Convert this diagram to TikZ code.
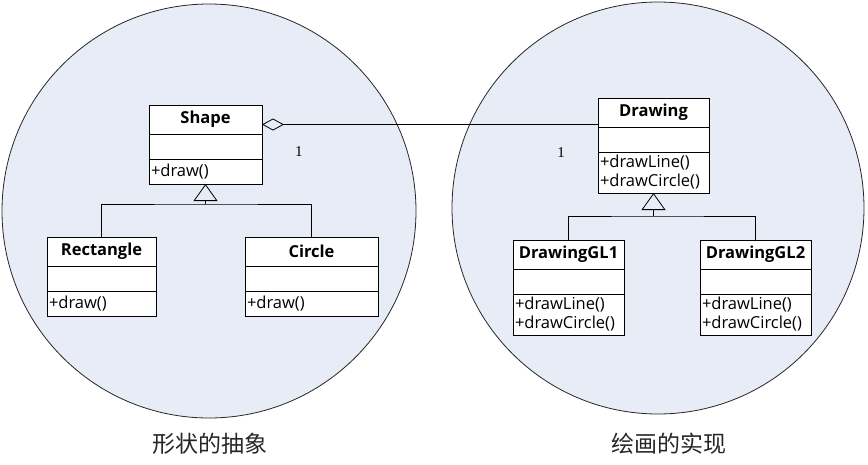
\documentclass[tikz,border=0pt]{standalone}
\usepackage{fontspec}
\setmainfont{Open Sans}
\newfontfamily\cjk{Noto Sans CJK SC}
\newfontfamily\numfont{Liberation Serif}
\usetikzlibrary{arrows.meta,positioning}
\definecolor{zonefill}{RGB}{231,236,246}
\newcommand\boxfont{\fontsize{16.5}{19}\selectfont}
\tikzset{
  cls/.style={draw, fill=white, outer sep=0pt, inner sep=0pt, minimum height=29pt, font=\boxfont\bfseries},
  attr/.style={draw, fill=white, outer sep=0pt, inner sep=0pt, minimum height=25pt},
  ops/.style={draw, fill=white, outer sep=0pt, inner xsep=2pt, inner ysep=0pt, align=left, minimum height=25pt, font=\boxfont},
  zone/.style={draw=black!85, fill=zonefill, line width=0.8pt},
  isa/.style={-{Triangle[open,length=17pt,width=24pt]}},
  has/.style={{Diamond[open,length=22pt,width=12pt]}-},
  mult/.style={font=\numfont\fontsize{15}{15}\selectfont},
  caption/.style={font=\cjk\fontsize{23}{23}\selectfont, text=black!85}
}

\begin{document}
\begin{tikzpicture}[x=1pt, y=-1pt, line width=0.8pt]
    \useasboundingbox (0,0) rectangle (868,464);
    \draw[zone] (209,211) circle[radius=207pt];% abstraction side
    \draw[zone] (658,208) circle[radius=206pt];% implementation side
    % abstraction classes
    \node[cls, minimum width=113pt] (shape) at (205.5,119.5) {Shape};
    \node[attr, minimum width=113pt, below=0pt of shape] (shape-a) {};
    \node[ops, text width=109pt, below=0pt of shape-a] (shape-o) {+draw()};
    \node[cls, minimum width=109pt] (rect) at (101.5,251.5) {Rectangle};
    \node[attr, minimum width=109pt, below=0pt of rect] (rect-a) {};
    \node[ops, text width=105pt, below=0pt of rect-a] (rect-o) {+draw()};
    \node[cls, minimum width=133pt] (circ) at (311.5,251.5) {Circle};
    \node[attr, minimum width=133pt, below=0pt of circ] (circ-a) {};
    \node[ops, text width=129pt, below=0pt of circ-a] (circ-o) {+draw()};
    % implementation classes
    \node[cls, minimum width=111pt] (drawing) at (653.5,112.5) {Drawing};
    \node[attr, minimum width=111pt, below=0pt of drawing] (drawing-a) {};
    \node[ops, text width=107pt, minimum height=41pt, below=0pt of drawing-a] (drawing-o) {+drawLine()\\+drawCircle()};
    \node[cls, minimum width=111pt] (gl1) at (568.5,254.5) {DrawingGL1};
    \node[attr, minimum width=111pt, below=0pt of gl1] (gl1-a) {};
    \node[ops, text width=107pt, minimum height=41pt, below=0pt of gl1-a] (gl1-o) {+drawLine()\\+drawCircle()};
    \node[cls, minimum width=111pt] (gl2) at (755.5,254.5) {DrawingGL2};
    \node[attr, minimum width=111pt, below=0pt of gl2] (gl2-a) {};
    \node[ops, text width=107pt, minimum height=41pt, below=0pt of gl2-a] (gl2-o) {+drawLine()\\+drawCircle()};
    % generalisations
    \draw (rect.north) |- ([yshift=-20pt]shape-o.south) -| (circ.north);
    \draw[isa] ([yshift=-20pt]shape-o.south) -- (shape-o.south);
    \draw (gl1.north) |- ([yshift=-23pt]drawing-o.south) -| (gl2.north);
    \draw[isa] ([yshift=-23pt]drawing-o.south) -- (drawing-o.south);
    % bridge
    \coordinate (agg) at ([yshift=-5pt]shape.east);
    \draw[has] (agg) -- (agg -| drawing.west)
        node[mult, pos=0.11, yshift=-27pt] (m1) {1}
        node[mult, pos=0.89, yshift=-28pt] (m2) {1};
    \node[caption] (abstr) at (210,444) {形状的抽象};
    \node[caption] (impl) at (669,444) {绘画的实现};
\end{tikzpicture}
\end{document}
